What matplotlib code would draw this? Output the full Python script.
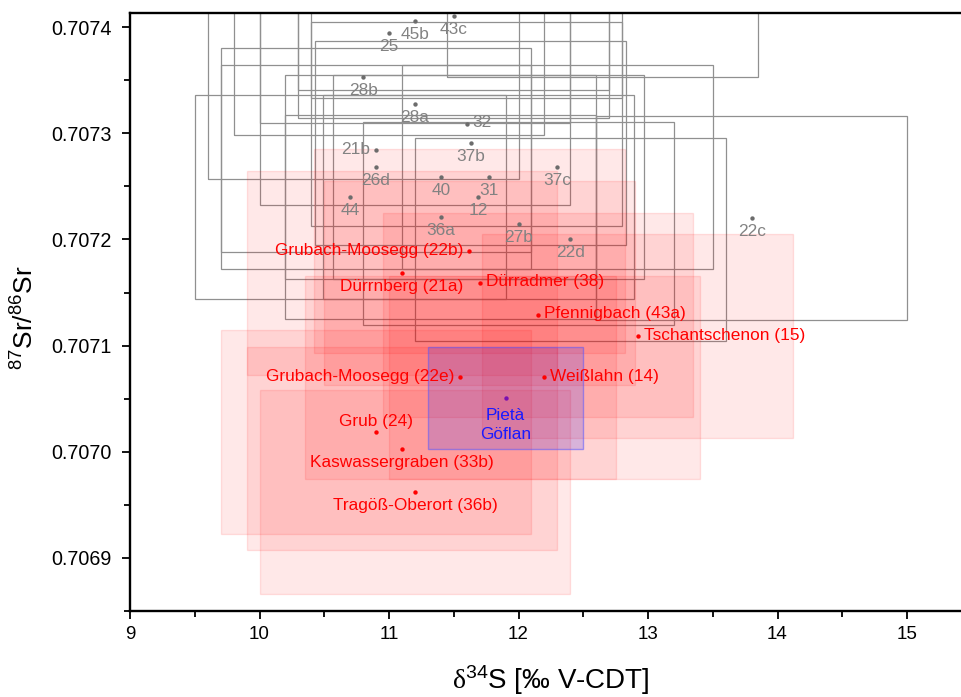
import matplotlib
matplotlib.use('Agg')
import matplotlib.pyplot as plt
from matplotlib.patches import Rectangle
from matplotlib.ticker import MultipleLocator, FormatStrFormatter

plt.rcParams['font.family'] = ['Liberation Sans', 'DejaVu Sans']
plt.rcParams['mathtext.fontset'] = 'custom'
plt.rcParams['mathtext.rm'] = 'Liberation Sans'
plt.rcParams['mathtext.it'] = 'Liberation Sans:italic'
plt.rcParams['mathtext.tt'] = 'Liberation Serif'

# gray reference samples (delta34S, 87Sr/86Sr); last three lie above the plotted range
gray_names = ['45b', '43c', '25', '28b', '28a', '32', '37b', '21b', '26d', '40',
              '31', '44', '12', '36a', '27b', '37c', '22d', '22c', '', '', '']
gray_s = [11.2, 11.5, 11.0, 10.8, 11.2, 11.6, 11.63, 10.9, 10.9, 11.4,
          11.77, 10.7, 11.69, 11.4, 12.0, 12.3, 12.4, 13.8, 11.6, 12.65, 11.5]
gray_sr = [0.707406, 0.70741, 0.707394, 0.707353, 0.707328, 0.707309, 0.707291,
           0.707284, 0.707268, 0.707259, 0.707259, 0.70724, 0.70724, 0.707221,
           0.707215, 0.707268, 0.7072, 0.70722, 0.707429, 0.707449, 0.707437]

# red deposits
red_names = ['Grubach-Moosegg (22b)', 'Dürrnberg (21a)', 'Dürradmer (38)',
             'Pfennigbach (43a)', 'Tschantschenon (15)', 'Grubach-Moosegg (22e)',
             'Weißlahn (14)', 'Grub (24)', 'Kaswassergraben (33b)',
             'Tragöß-Oberort (36b)']
red_s = [11.62, 11.1, 11.7, 12.15, 12.92, 11.55, 12.2, 10.9, 11.1, 11.2]
red_sr = [0.707189, 0.707168, 0.707159, 0.707129, 0.707109, 0.70707, 0.70707,
          0.707019, 0.707003, 0.706962]

# uncertainty (half box size) of the reference samples
S_ERR = 1.2
SR_ERR = 0.000096

# the artefact
pieta_name = 'Pietà\nGöflan'
pieta_s = 11.9
pieta_sr = 0.707051
pieta_s_err = 0.6
pieta_sr_err = 0.000048

# where the labels go
gray_side = {'32': 'r', '21b': 'l'}
red_side = {'Grubach-Moosegg (22b)': 'l', 'Dürrnberg (21a)': 'b', 'Dürradmer (38)': 'r',
            'Pfennigbach (43a)': 'r', 'Tschantschenon (15)': 'r',
            'Grubach-Moosegg (22e)': 'l', 'Weißlahn (14)': 'r', 'Grub (24)': 'a',
            'Kaswassergraben (33b)': 'b', 'Tragöß-Oberort (36b)': 'b'}

GRAY_LINE = '#909090'
GRAY_TEXT = '#828282'
GRAY_DOT = '#6c6c6c'
RED = '#ff0000'
LABEL_SIZE = 12.4

fig = plt.figure(figsize=(9.61, 6.97), dpi=100)
ax = fig.add_axes([130 / 961, 86 / 697, 841.75 / 961, 597.7 / 697])


def add_label(x, y, text, side, color):
    pos = {'b': ((0, -18), 'center', 'baseline'),
           'a': ((0, 6), 'center', 'baseline'),
           'l': ((-6, 1), 'right', 'center'),
           'r': ((6, 1), 'left', 'center')}
    off, ha, va = pos[side]
    ax.annotate(text, (x, y), xytext=off, textcoords='offset pixels',
                ha=ha, va=va, color=color, fontsize=LABEL_SIZE, zorder=6,
                annotation_clip=True)


# gray boxes: outline only
for x, y in zip(gray_s, gray_sr):
    ax.add_patch(Rectangle((x - S_ERR, y - SR_ERR), 2 * S_ERR, 2 * SR_ERR,
                           facecolor='none', edgecolor=GRAY_LINE, lw=0.9, zorder=1))
ax.scatter(gray_s, gray_sr, s=10, color=GRAY_DOT, zorder=4, linewidths=0)
for name, x, y in zip(gray_names, gray_s, gray_sr):
    if name:
        add_label(x, y, name, gray_side.get(name, 'b'), GRAY_TEXT)

# red boxes: translucent fill
for x, y in zip(red_s, red_sr):
    ax.add_patch(Rectangle((x - S_ERR, y - SR_ERR), 2 * S_ERR, 2 * SR_ERR,
                           facecolor=(1, 0, 0, 0.09), edgecolor=(1, 0, 0, 0.11),
                           lw=1.0, zorder=2))
ax.scatter(red_s, red_sr, s=10, color=RED, zorder=4, linewidths=0)
for name, x, y in zip(red_names, red_s, red_sr):
    add_label(x, y, name, red_side[name], RED)

# Pietà Göflan
ax.add_patch(Rectangle((pieta_s - pieta_s_err, pieta_sr - pieta_sr_err),
                       2 * pieta_s_err, 2 * pieta_sr_err,
                       facecolor=(0.1, 0.1, 1, 0.17), edgecolor=(0.35, 0.35, 1, 0.55),
                       lw=1.0, zorder=3))
ax.scatter([pieta_s], [pieta_sr], s=10, color='#7a10b0', zorder=4, linewidths=0)
for i, line in enumerate(pieta_name.split('\n')):
    ax.annotate(line, (pieta_s, pieta_sr), xytext=(0, -22 - 19 * i),
                textcoords='offset pixels', ha='center', va='baseline',
                color='#1a1aff', fontsize=LABEL_SIZE, zorder=6)

ax.set_xlim(9, 15.5)
ax.set_ylim(0.70685, 0.707413)
ax.xaxis.set_major_locator(MultipleLocator(1))
ax.xaxis.set_minor_locator(MultipleLocator(0.5))
ax.yaxis.set_major_locator(MultipleLocator(0.0001))
ax.yaxis.set_minor_locator(MultipleLocator(0.00005))
ax.yaxis.set_major_formatter(FormatStrFormatter('%.4f'))

for sp in ax.spines.values():
    sp.set_linewidth(1.7)
ax.tick_params(which='major', direction='out', length=6, width=1.3)
ax.tick_params(which='minor', direction='out', length=4, width=1.3)
ax.tick_params(axis='x', labelsize=13.5, pad=5)
ax.tick_params(axis='y', labelsize=14.2, pad=7)

ax.set_xlabel(r'$\mathtt{\delta}^{34}$S [‰ V-CDT]', fontsize=20)
ax.xaxis.set_label_coords(0.5, -0.088)
ax.set_ylabel(r'$^{87}$Sr/$^{86}$Sr', fontsize=19)
ax.yaxis.set_label_coords(-0.1085, 0.49)

fig.savefig('out.png', dpi=100)
